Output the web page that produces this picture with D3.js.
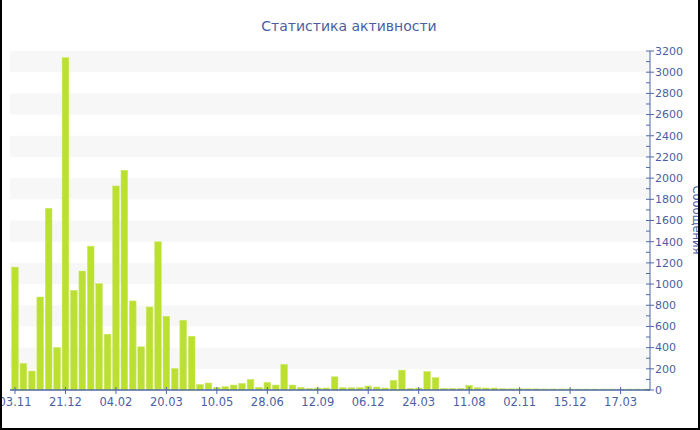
<!DOCTYPE html>
<html>
<head>
<meta charset="utf-8">
<script src="https://cdn.jsdelivr.net/npm/d3@7"></script>
<style>
  html, body { margin: 0; padding: 0; background: #fff; }
  svg { display: block; }
</style>
</head>
<body>
<svg id="chart" width="700" height="430"></svg>
<script>
const title = "Статистика активности";
const yTitle = "Сообщения";
const values = [
  1160, 251, 179, 878, 1716, 401, 3137, 941, 1123, 1358,
  1004, 527, 1926, 2074, 841, 408, 784, 1399, 696, 204,
  659, 508, 53, 66, 25, 31, 47, 63, 100, 25,
  72, 47, 242, 47, 25, 16, 19, 19, 125, 22,
  22, 22, 38, 28, 19, 91, 188, 16, 19, 176,
  117, 16, 16, 16, 44, 22, 19, 19, 14, 12,
  12, 11, 11, 10, 10, 10, 10, 9, 9, 9,
  9, 9, 9, 9, 9, 9
];
const tickLabels = ["03.11", "21.12", "04.02", "20.03", "10.05", "28.06", "12.09",
                    "06.12", "24.03", "11.08", "02.11", "15.12", "17.03"];
const tickEvery = 6;
const yMax = 3200;
const yStep = 200;

(function () {
const svg = d3.select("#chart");
const W = 700, H = 430;
const pLeft = 10.8, pRight = 650, pTop = 51, pBottom = 390;
const axisColor = "#5068aa";
const textColor = "#4a5fa3";
const font = "DejaVu Sans, Verdana, sans-serif";

const x = d3.scaleBand().domain(d3.range(values.length)).range([pLeft, pRight]).paddingInner(0.2).paddingOuter(0.1);
const y = d3.scaleLinear().domain([0, yMax]).range([pBottom, pTop]);

// alternating bands
const bandStarts = d3.range(yStep, yMax, yStep * 2);
svg.append("g").selectAll("rect").data(bandStarts).join("rect")
  .attr("x", 10).attr("width", pRight - 10)
  .attr("y", d => y(d + yStep)).attr("height", d => y(d) - y(d + yStep))
  .attr("fill", "#f7f7f7");

// bars
svg.append("g").selectAll("rect").data(values).join("rect")
  .attr("x", (d, i) => x(i)).attr("width", x.bandwidth())
  .attr("y", d => y(d)).attr("height", d => pBottom - y(d))
  .attr("fill", "#bce032")
  .attr("stroke", "#cdea6a").attr("stroke-width", 0.5);

// right y axis
const yAxis = svg.append("g");
yAxis.append("line").attr("x1", pRight).attr("x2", pRight).attr("y1", pTop).attr("y2", pBottom)
  .attr("stroke", axisColor).attr("stroke-width", 1);
const minor = d3.range(0, yMax + 1, yStep / 2).filter(v => v % yStep !== 0);
yAxis.selectAll("line.minor").data(minor).join("line").attr("class", "minor")
  .attr("x1", pRight - 4).attr("x2", pRight).attr("y1", d => y(d)).attr("y2", d => y(d))
  .attr("stroke", axisColor).attr("stroke-width", 1);
const major = y.ticks(16);
yAxis.selectAll("line.major").data(major).join("line").attr("class", "major")
  .attr("x1", pRight - 4).attr("x2", pRight + 4).attr("y1", d => y(d)).attr("y2", d => y(d))
  .attr("stroke", axisColor).attr("stroke-width", 1);
yAxis.selectAll("text").data(major).join("text")
  .attr("x", pRight + 5).attr("y", d => y(d)).attr("dy", "0.35em")
  .attr("fill", textColor).attr("font-family", font).attr("font-size", 11)
  .text(d => d);

// x axis
const xAxis = svg.append("g");
xAxis.append("line").attr("x1", 10).attr("x2", pRight).attr("y1", pBottom).attr("y2", pBottom)
  .attr("stroke", axisColor).attr("stroke-width", 1.5);
const tickIdx = d3.range(0, values.length, tickEvery).slice(0, tickLabels.length);
xAxis.selectAll("line.t").data(tickIdx).join("line").attr("class", "t")
  .attr("x1", i => x(i) + x.bandwidth() / 2).attr("x2", i => x(i) + x.bandwidth() / 2)
  .attr("y1", pBottom - 3).attr("y2", pBottom + 4)
  .attr("stroke", axisColor).attr("stroke-width", 1);
xAxis.selectAll("text").data(tickIdx).join("text")
  .attr("x", i => x(i) + x.bandwidth() / 2).attr("y", 406)
  .attr("text-anchor", "middle")
  .attr("fill", textColor).attr("font-family", font).attr("font-size", 11.5)
  .text((i, k) => tickLabels[k]);

// title
svg.append("text").attr("x", 349).attr("y", 31).attr("text-anchor", "middle")
  .attr("fill", textColor).attr("font-family", font).attr("font-size", 14)
  .text(title);

// y axis title
svg.append("text").attr("transform", "translate(693,220) rotate(90)")
  .attr("text-anchor", "middle")
  .attr("fill", textColor).attr("font-family", font).attr("font-size", 11.5)
  .text(yTitle);

// frame
svg.append("line").attr("x1", 1).attr("x2", 1).attr("y1", 0).attr("y2", H).attr("stroke", "#000").attr("stroke-width", 2);
svg.append("line").attr("x1", W - 1).attr("x2", W - 1).attr("y1", 0).attr("y2", H).attr("stroke", "#000").attr("stroke-width", 2);
svg.append("line").attr("x1", 0).attr("x2", W).attr("y1", H - 1).attr("y2", H - 1).attr("stroke", "#000").attr("stroke-width", 2);
})();
</script>
</body>
</html>
